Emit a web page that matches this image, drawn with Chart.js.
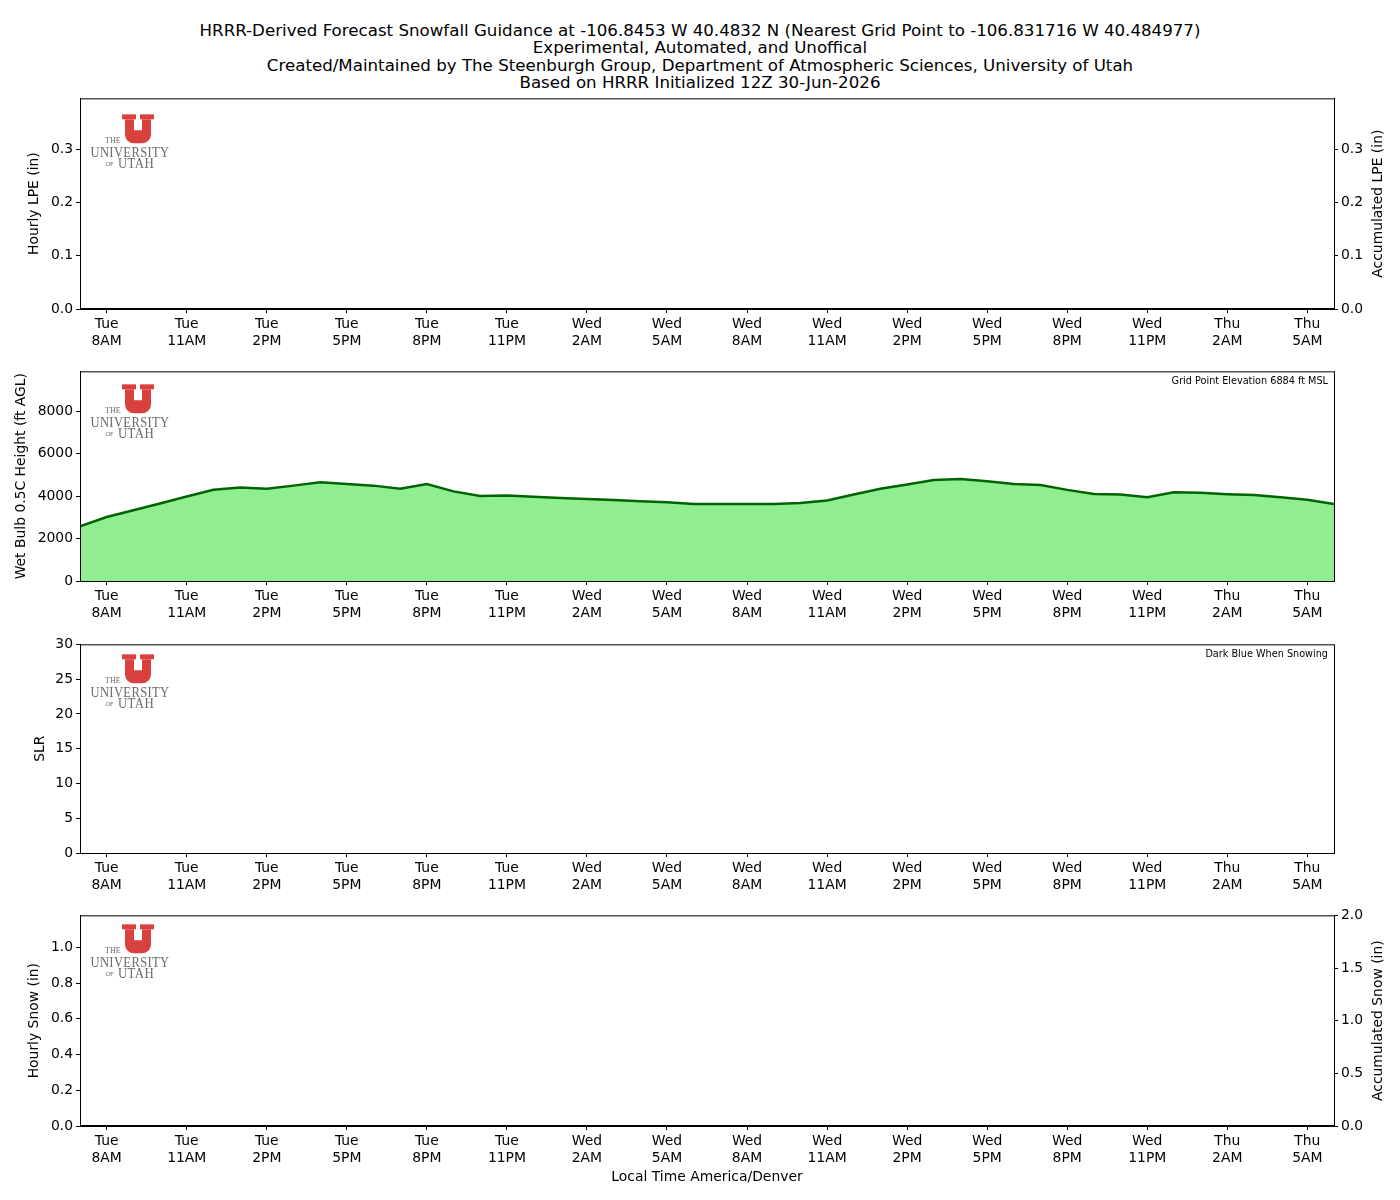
<!DOCTYPE html>
<html>
<head>
<meta charset="utf-8">
<script src="https://cdn.jsdelivr.net/npm/chart.js@4.4.1/dist/chart.umd.min.js"></script>
<style>
  body { margin: 0; background: #fff; }
  #page { position: relative; width: 1400px; height: 1200px; font-family: 'DejaVu Sans', sans-serif; }
  .title { position: absolute; left: 0; top: 22px; width: 1400px; text-align: center; font-size: 16.67px; line-height: 17.4px; color: #000; }
  canvas { position: absolute; left: 0; }
</style>
</head>
<body>
<div id="page">
  <div class="title">
    HRRR-Derived Forecast Snowfall Guidance at -106.8453 W 40.4832 N (Nearest Grid Point to -106.831716 W 40.484977)<br>
    Experimental, Automated, and Unoffical<br>
    Created/Maintained by The Steenburgh Group, Department of Atmospheric Sciences, University of Utah<br>
    Based on HRRR Initialized 12Z 30-Jun-2026
  </div>
  <canvas id="lpeChart" width="1400" height="272" style="top:87px"></canvas>
  <canvas id="wetBulbChart" width="1400" height="271" style="top:360px"></canvas>
  <canvas id="slrChart" width="1400" height="270" style="top:633px"></canvas>
  <canvas id="snowChart" width="1400" height="296" style="top:904px"></canvas>
</div>
<script>
// forecast hours since Tue 7AM local
const hourOffsets = [0, 1, 2, 3, 4, 5, 6, 7, 8, 9, 10, 11, 12, 13, 14, 15, 16, 17, 18, 19, 20, 21, 22, 23,
  24, 25, 26, 27, 28, 29, 30, 31, 32, 33, 34, 35, 36, 37, 38, 39, 40, 41, 42, 43, 44, 45, 46, 47];

const tickHours = [1, 4, 7, 10, 13, 16, 19, 22, 25, 28, 31, 34, 37, 40, 43, 46];
const tickDays = ['Tue', 'Tue', 'Tue', 'Tue', 'Tue', 'Tue', 'Wed', 'Wed', 'Wed', 'Wed', 'Wed', 'Wed', 'Wed', 'Wed', 'Thu', 'Thu'];
const tickTimes = ['8AM', '11AM', '2PM', '5PM', '8PM', '11PM', '2AM', '5AM', '8AM', '11AM', '2PM', '5PM', '8PM', '11PM', '2AM', '5AM'];

const hourlyLPE = [0, 0, 0, 0, 0, 0, 0, 0, 0, 0, 0, 0, 0, 0, 0, 0, 0, 0, 0, 0, 0, 0, 0, 0,
  0, 0, 0, 0, 0, 0, 0, 0, 0, 0, 0, 0, 0, 0, 0, 0, 0, 0, 0, 0, 0, 0, 0, 0];
const accumLPE = [0, 0, 0, 0, 0, 0, 0, 0, 0, 0, 0, 0, 0, 0, 0, 0, 0, 0, 0, 0, 0, 0, 0, 0,
  0, 0, 0, 0, 0, 0, 0, 0, 0, 0, 0, 0, 0, 0, 0, 0, 0, 0, 0, 0, 0, 0, 0, 0];

const wetBulbHeight = [2570, 3010, 3330, 3650, 3980, 4300, 4400, 4340, 4490, 4650, 4570, 4490,
  4340, 4570, 4220, 4000, 4020, 3970, 3910, 3860, 3810, 3750, 3710, 3630,
  3620, 3620, 3630, 3670, 3790, 4070, 4340, 4540, 4760, 4800, 4700, 4570,
  4520, 4290, 4100, 4070, 3940, 4180, 4150, 4090, 4050, 3940, 3820, 3630];

const slrValues = [null, null, null, null, null, null, null, null, null, null, null, null,
  null, null, null, null, null, null, null, null, null, null, null, null,
  null, null, null, null, null, null, null, null, null, null, null, null,
  null, null, null, null, null, null, null, null, null, null, null, null];

const hourlySnow = [0, 0, 0, 0, 0, 0, 0, 0, 0, 0, 0, 0, 0, 0, 0, 0, 0, 0, 0, 0, 0, 0, 0, 0,
  0, 0, 0, 0, 0, 0, 0, 0, 0, 0, 0, 0, 0, 0, 0, 0, 0, 0, 0, 0, 0, 0, 0, 0];
const accumSnow = [0, 0, 0, 0, 0, 0, 0, 0, 0, 0, 0, 0, 0, 0, 0, 0, 0, 0, 0, 0, 0, 0, 0, 0,
  0, 0, 0, 0, 0, 0, 0, 0, 0, 0, 0, 0, 0, 0, 0, 0, 0, 0, 0, 0, 0, 0, 0, 0];

const lpeTicks = [0, 0.1, 0.2, 0.3];
const wetBulbTicks = [0, 2000, 4000, 6000, 8000];
const slrTicks = [0, 5, 10, 15, 20, 25, 30];
const snowTicks = [0, 0.2, 0.4, 0.6, 0.8, 1.0];
const accumSnowTicks = [0, 0.5, 1.0, 1.5, 2.0];

Chart.defaults.font.family = "'DejaVu Sans', sans-serif";
Chart.defaults.font.size = 13.9;
Chart.defaults.color = '#000';

const pts = vals => vals.map((v, i) => ({ x: hourOffsets[i], y: v }));

function drawLogo(ctx, ux, uy) {
  ctx.save();
  ctx.fillStyle = '#d9413f';
  ctx.fillRect(ux, uy, 14, 5);
  ctx.fillRect(ux + 18, uy, 14, 5);
  ctx.fillRect(ux + 3, uy + 5, 9, 13);
  ctx.fillRect(ux + 20, uy + 5, 9, 13);
  ctx.beginPath();
  ctx.roundRect(ux + 3, uy + 16, 26, 13, [0, 0, 9, 9]);
  ctx.fill();
  ctx.fillStyle = '#6a6a6a';
  ctx.textBaseline = 'alphabetic';
  ctx.textAlign = 'left';
  ctx.font = '8px "Liberation Serif", serif';
  ctx.fillText('THE', ux - 17, uy + 29, 16);
  ctx.font = '7px "Liberation Serif", serif';
  ctx.fillText('OF', ux - 16.5, uy + 51.5, 8);
  ctx.font = '14px "Liberation Serif", serif';
  ctx.letterSpacing = '0.4px';
  ctx.fillText('UNIVERSITY', ux - 31.5, uy + 42.5, 79);
  ctx.fillText('UTAH', ux - 4, uy + 54, 36);
  ctx.restore();
}

// frame, logo, corner note and right-hand axis title
const panelDecor = {
  id: 'panelDecor',
  afterDraw(chart, args, opts) {
    const { ctx, chartArea: a } = chart;
    ctx.save();
    ctx.strokeStyle = '#000';
    ctx.lineWidth = 1;
    ctx.strokeRect(a.left + 0.5, a.top + 0.5, a.right - a.left, a.bottom - a.top);
    drawLogo(ctx, a.left + 42, a.top + opts.logoTop);
    if (opts.note) {
      ctx.font = "9.7px 'DejaVu Sans', sans-serif";
      ctx.fillStyle = '#000';
      ctx.textAlign = 'right';
      ctx.textBaseline = 'middle';
      ctx.fillText(opts.note, a.right - 6, a.top + 10);
    }
    if (opts.rightTitle) {
      ctx.font = "13.9px 'DejaVu Sans', sans-serif";
      ctx.fillStyle = '#000';
      ctx.textAlign = 'center';
      ctx.textBaseline = 'middle';
      ctx.translate(chart.width - 22, (a.top + a.bottom) / 2);
      ctx.rotate(-Math.PI / 2);
      ctx.fillText(opts.rightTitle, 0, 0);
    }
    ctx.restore();
  }
};

function timeAxis(height, title) {
  return {
    type: 'linear', min: 0, max: 47, offset: false,
    grid: { drawOnChartArea: false, drawTicks: true, tickLength: 4, color: '#000', offset: false },
    border: { display: true, color: '#000' },
    afterBuildTicks: s => { s.ticks = tickHours.map(v => ({ value: v })); },
    afterFit: s => { s.height = height; },
    ticks: {
      autoSkip: false, maxRotation: 0, minRotation: 0, padding: 3,
      callback: v => { const i = tickHours.indexOf(v); return [tickDays[i], tickTimes[i]]; }
    },
    title: title ? { display: true, text: title, padding: { top: 0, bottom: 14.7 } } : { display: false }
  };
}

function valueAxis(position, max, ticks, digits, title, titlePad, width) {
  return {
    type: 'linear', position: position, min: 0, max: max,
    grid: { drawOnChartArea: false, drawTicks: true, tickLength: 4, color: '#000' },
    border: { display: true, color: '#000' },
    afterBuildTicks: s => { s.ticks = ticks.map(v => ({ value: v })); },
    afterFit: s => { s.width = width; },
    ticks: { padding: 3, callback: v => v.toFixed(digits) },
    title: title ? { display: true, text: title, padding: { top: titlePad, bottom: 0 } } : { display: false }
  };
}

function baseOptions(scales, decor, padRight) {
  return {
    responsive: false, animation: false, devicePixelRatio: 1,
    layout: { padding: { top: 10, right: padRight, bottom: 0, left: 0 } },
    plugins: { legend: { display: false }, tooltip: { enabled: false }, panelDecor: decor },
    scales: scales
  };
}

new Chart(document.getElementById('lpeChart'), {
  type: 'bar',
  data: {
    datasets: [
      { type: 'bar', data: pts(hourlyLPE), backgroundColor: '#1f77b4', borderWidth: 0, yAxisID: 'y' },
      { type: 'line', data: pts(accumLPE), borderColor: '#000', borderWidth: 2, pointRadius: 0, yAxisID: 'y2' }
    ]
  },
  options: baseOptions({
    x: timeAxis(50),
    y: valueAxis('left', 0.395, lpeTicks, 1, 'Hourly LPE (in)', 25.7, 80),
    y2: valueAxis('right', 0.395, lpeTicks, 1, null, 0, 66)
  }, { logoTop: 16, rightTitle: 'Accumulated LPE (in)' }, 0),
  plugins: [panelDecor]
});

new Chart(document.getElementById('wetBulbChart'), {
  type: 'line',
  data: {
    datasets: [{
      data: pts(wetBulbHeight), fill: 'origin', backgroundColor: '#90ee90',
      borderColor: '#006400', borderWidth: 2.5, pointRadius: 0, tension: 0
    }]
  },
  options: baseOptions({
    x: timeAxis(50),
    y: valueAxis('left', 9871, wetBulbTicks, 0, 'Wet Bulb 0.5C Height (ft AGL)', 12.7, 80)
  }, { logoTop: 13, note: 'Grid Point Elevation 6884 ft MSL' }, 66),
  plugins: [panelDecor]
});

new Chart(document.getElementById('slrChart'), {
  type: 'line',
  data: {
    datasets: [{ data: pts(slrValues), showLine: false, pointRadius: 4, backgroundColor: '#00008b', borderColor: '#00008b' }]
  },
  options: baseOptions({
    x: timeAxis(50),
    y: valueAxis('left', 30, slrTicks, 0, 'SLR', 32, 80)
  }, { logoTop: 10, note: 'Dark Blue When Snowing' }, 66),
  plugins: [panelDecor]
});

new Chart(document.getElementById('snowChart'), {
  type: 'bar',
  data: {
    datasets: [
      { type: 'bar', data: pts(hourlySnow), backgroundColor: '#1f77b4', borderWidth: 0, yAxisID: 'y' },
      { type: 'line', data: pts(accumSnow), borderColor: '#000', borderWidth: 2, pointRadius: 0, yAxisID: 'y2' }
    ]
  },
  options: baseOptions({
    x: timeAxis(74, 'Local Time America/Denver'),
    y: valueAxis('left', 1.18, snowTicks, 1, 'Hourly Snow (in)', 25.7, 80),
    y2: valueAxis('right', 2.0, accumSnowTicks, 1, null, 0, 66)
  }, { logoTop: 9, rightTitle: 'Accumulated Snow (in)' }, 0),
  plugins: [panelDecor]
});
</script>
</body>
</html>
